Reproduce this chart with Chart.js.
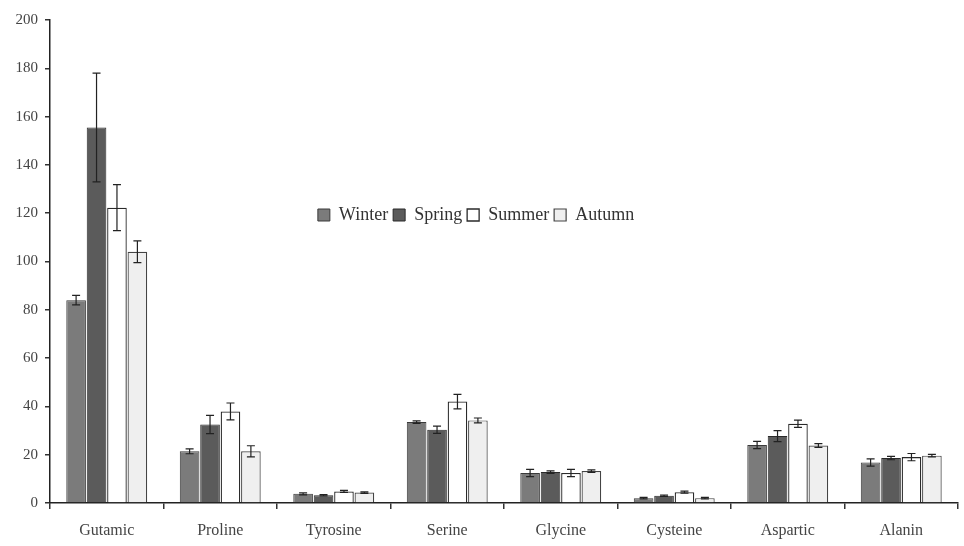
<!DOCTYPE html>
<html>
<head>
<meta charset="utf-8">
<script src="https://cdn.jsdelivr.net/npm/chart.js@4.4.1/dist/chart.umd.min.js"></script>
<style>
  html, body { margin: 0; padding: 0; background: #fff; }
  #wrap { width: 964px; height: 546px; }
</style>
</head>
<body>
<div id="wrap"><canvas id="chartAmino"></canvas></div>
<script>
const categories = ['Gutamic', 'Proline', 'Tyrosine', 'Serine', 'Glycine', 'Cysteine', 'Aspartic', 'Alanin'];
const seasons = ['Winter', 'Spring', 'Summer', 'Autumn'];

const winter = [84, 21.4, 3.8, 33.5, 12.4, 2, 24, 16.8];
const spring = [155.5, 32.5, 3.2, 30.3, 12.8, 3, 27.7, 18.6];
const summer = [122.3, 37.9, 4.8, 42, 12.4, 4.5, 32.8, 19];
const autumn = [104, 21.4, 4.3, 34.2, 13.2, 2, 23.8, 19.6];

const winterErr = [2, 1, 0.4, 0.5, 1.5, 0.3, 1.5, 1.5];
const springErr = [22.5, 3.8, 0.3, 1.5, 0.5, 0.3, 2.3, 0.7];
const summerErr = [9.5, 3.5, 0.4, 3, 1.5, 0.4, 1.5, 1.5];
const autumnErr = [4.5, 2.3, 0.3, 1, 0.5, 0.3, 0.8, 0.5];

const yTicks = [0, 20, 40, 60, 80, 100, 120, 140, 160, 180, 200];

const serif = '"Liberation Serif", "DejaVu Serif", serif';

// error bars drawn through the y scale
const errorBars = {
    id: 'errorBars',
    afterDatasetsDraw(chart) {
        const ctx = chart.ctx;
        const y = chart.scales.y;
        ctx.save();
        ctx.strokeStyle = '#222';
        ctx.lineWidth = 1.2;
        chart.data.datasets.forEach((ds, i) => {
            const meta = chart.getDatasetMeta(i);
            meta.data.forEach((bar, j) => {
                const v = ds.data[j];
                const e = ds.errors[j];
                const top = y.getPixelForValue(v + e);
                const bot = y.getPixelForValue(v - e);
                const cap = 4;
                ctx.beginPath();
                ctx.moveTo(bar.x, top); ctx.lineTo(bar.x, bot);
                ctx.moveTo(bar.x - cap, top); ctx.lineTo(bar.x + cap, top);
                ctx.moveTo(bar.x - cap, bot); ctx.lineTo(bar.x + cap, bot);
                ctx.stroke();
            });
        });
        ctx.restore();
    }
};

// legend takes no room at the top, then gets moved into the plot
const legendShift = {
    id: 'legendShift',
    beforeLayout(chart) {
        const lg = chart.legend;
        if (lg && !lg._patched) {
            const fit = lg.fit;
            lg.fit = function () {
                fit.call(this);
                this._realHeight = this.height;
                this.height = 0;
            };
            lg._patched = true;
        }
    },
    afterLayout(chart) {
        const lg = chart.legend;
        const h = lg._realHeight || 0;
        lg.top = 201;
        lg.bottom = 201 + h;
        lg.left -= 3;
        lg.right -= 3;
    }
};

const data = {
    labels: categories,
    datasets: [
        { label: seasons[0], data: winter, errors: winterErr, backgroundColor: '#7b7b7b', borderColor: '#3a3a3a', borderWidth: 1 },
        { label: seasons[1], data: spring, errors: springErr, backgroundColor: '#5b5b5b', borderColor: '#2a2a2a', borderWidth: 1 },
        { label: seasons[2], data: summer, errors: summerErr, backgroundColor: '#ffffff', borderColor: '#2a2a2a', borderWidth: 1.3 },
        { label: seasons[3], data: autumn, errors: autumnErr, backgroundColor: '#efefef', borderColor: '#444', borderWidth: 1.2 }
    ]
};

const config = {
    type: 'bar',
    data: data,
    plugins: [errorBars, legendShift],
    options: {
        responsive: false,
        animation: false,
        layout: { padding: { top: 20, right: 6, left: 0, bottom: 0 } },
        datasets: {
            bar: { categoryPercentage: 0.72, barPercentage: 0.96 }
        },
        plugins: {
            legend: {
                position: 'top',
                labels: {
                    font: { family: serif, size: 18 },
                    color: '#333',
                    boxWidth: 12,
                    boxHeight: 12,
                    padding: 5
                }
            },
            tooltip: { enabled: false }
        },
        scales: {
            x: {
                afterFit: (s) => { s.height = 43; },
                grid: {
                    offset: true,
                    drawOnChartArea: false,
                    drawTicks: true,
                    tickLength: 6,
                    tickColor: '#333',
                    lineWidth: 1.5
                },
                border: { color: '#222', width: 1.5 },
                ticks: {
                    font: { family: serif, size: 16 },
                    color: '#444',
                    padding: 12
                }
            },
            y: {
                min: 0,
                max: 200,
                afterFit: (s) => { s.width = 50; },
                afterBuildTicks: (s) => { s.ticks = yTicks.map(v => ({ value: v })); },
                grid: {
                    drawOnChartArea: false,
                    drawTicks: true,
                    tickLength: 5,
                    tickColor: '#333',
                    lineWidth: 1.5
                },
                border: { color: '#222', width: 1.5 },
                ticks: {
                    font: { family: serif, size: 15 },
                    color: '#444',
                    padding: 7
                }
            }
        }
    }
};

const canvas = document.getElementById('chartAmino');
canvas.width = 964;
canvas.height = 546;
const chartAmino = new Chart(canvas, config);
</script>
</body>
</html>
